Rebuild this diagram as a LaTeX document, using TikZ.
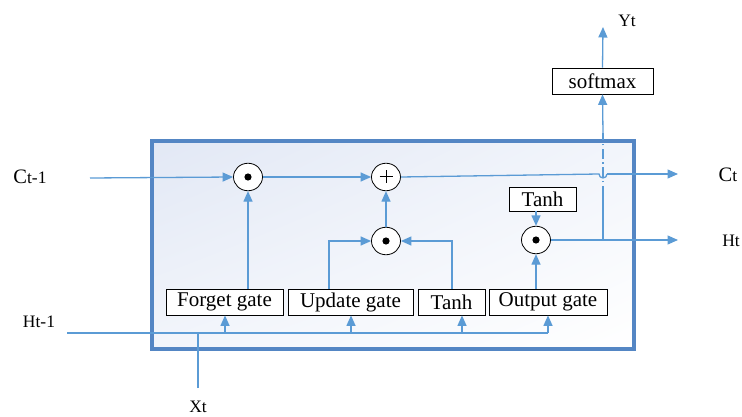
\documentclass[tikz,border=0pt]{standalone}
\usepackage{fontspec}
\setmainfont{Liberation Serif}
\usetikzlibrary{arrows.meta,calc,shadings}
\definecolor{lnblue}{RGB}{91,155,213}
\definecolor{frblue}{RGB}{84,134,196}
\definecolor{shadeA}{RGB}{226,232,245}
\definecolor{shadeB}{RGB}{242,245,251}
\tikzset{
  conn/.style={draw=lnblue,line width=1.3pt},
  arr/.style={conn,-{Triangle[length=10.5pt,width=9pt]}},
  gatebox/.style={draw=black,line width=0.8pt,fill=white,minimum height=26pt,inner sep=0pt,font=\fontsize{21}{23}\selectfont},
  opnode/.style={ellipse,draw=black,line width=0.8pt,fill=white,minimum width=29pt,minimum height=27.5pt,inner sep=0pt},
  lbl/.style={font=\fontsize{17.5}{19}\selectfont,inner sep=0pt},
}
\usetikzlibrary{shapes.geometric}
\newcommand{\bigC}{{\fontsize{20.5}{22}\selectfont C}}
\begin{document}
\begin{tikzpicture}[x=1pt,y=-1pt]
\useasboundingbox (0,0) rectangle (742,417);
% frame
\shade[upper left=shadeA,upper right=shadeB,lower left=shadeB,lower right=white]
  (152,141) rectangle (634,349);
\node[draw=frblue,line width=3.5pt,minimum width=482pt,minimum height=208pt,inner sep=0pt] (frame) at (393,245) {};
% operators
\node[opnode] (o1) at (248,177) {};
\node[opnode] (plus) at (386,177) {};
\node[opnode] (o2) at (386,241) {};
\node[opnode] (o3) at (536,240) {};
\foreach \n in {o1,o2,o3} \fill (\n.center) circle (3.6pt);
\draw[line width=1pt] ($(plus.center)+(-6.5,0)$) -- ($(plus.center)+(6.5,0)$)
  ($(plus.center)+(0,-6.5)$) -- ($(plus.center)+(0,6.5)$);
% boxes
\node[gatebox,minimum width=117pt] (forget) at (224.5,302) {Forget gate};
\node[gatebox,minimum width=125pt] (update) at (350.5,302) {Update gate};
\node[gatebox,minimum width=67pt] (tanh) at (451.5,302) {Tanh};
\node[gatebox,minimum width=118pt] (output) at (548,302) {Output gate};
\node[gatebox,minimum width=67pt,minimum height=24pt] (tanh2) at (542.5,199) {Tanh};
\node[gatebox,minimum width=101pt] (softmax) at (602.5,81) {softmax};
% labels
\node[lbl] (lct1) at (30,177) {\bigC t-1};
\node[lbl] (lht1) at (39,322) {Ht-1};
\node[lbl] (lxt) at (198,407) {Xt};
\node[lbl] (lct) at (728,175) {\bigC t};
\node[lbl] (lht) at (731,241) {Ht};
\node[lbl] (lyt) at (627,21) {Yt};
% coordinates
\coordinate (cin) at (90,178);
\coordinate (hin) at (67,333);
\coordinate (hend) at (548,333);
\coordinate (xin) at (198,388);
\coordinate (xj) at (198,333);
\coordinate (b1) at (225,333);
\coordinate (b2) at (351,333);
\coordinate (b3) at (462,333);
\coordinate (u1) at (329,289);
\coordinate (t1) at (452,289);
\coordinate (hop1) at (599,174);
\coordinate (hop2) at (607,174);
\coordinate (cout) at (678,174);
\coordinate (hj) at (603,240);
\coordinate (hout) at (678,240);
\coordinate (d1) at (603,196);
\coordinate (d2) at (603,133);
\coordinate (yout) at (603,27);
% connectors
\draw[arr] (cin) -- (o1.west);
\draw[arr] (o1.east) -- (plus.west);
\draw[arr] (forget.north -| o1) -- (o1.south);
\draw[arr] (u1) |- (o2.west);
\draw[arr] (t1) |- (o2.east);
\draw[arr] (o2.north) -- (plus.south);
\draw[conn] (plus.east) -- (hop1) arc[start angle=180,end angle=360,radius=4pt];
\draw[arr] (hop2) -- (cout);
\draw[conn] (hin) -- (hend);
\draw[arr] (hend) -- (output.south);
\draw[conn] (xin) -- (xj);
\draw[arr] (b1) -- (b1 |- forget.south);
\draw[arr] (b2) -- (b2 |- update.south);
\draw[arr] (b3) -- (b3 |- tanh.south);
\draw[arr] (output.north -| o3) -- (o3.south);
\draw[arr] (tanh2.south -| o3) -- (o3.north);
\draw[arr] (o3.east) -- (hout);
\draw[conn] (hj) -- (d1);
\draw[conn,dash pattern=on 10pt off 3.5pt on 1.5pt off 3.5pt] (d1) -- (d2);
\draw[arr] (d2) -- (softmax.south);
\draw[arr] (softmax.north) -- (yout);
\end{tikzpicture}
\end{document}
